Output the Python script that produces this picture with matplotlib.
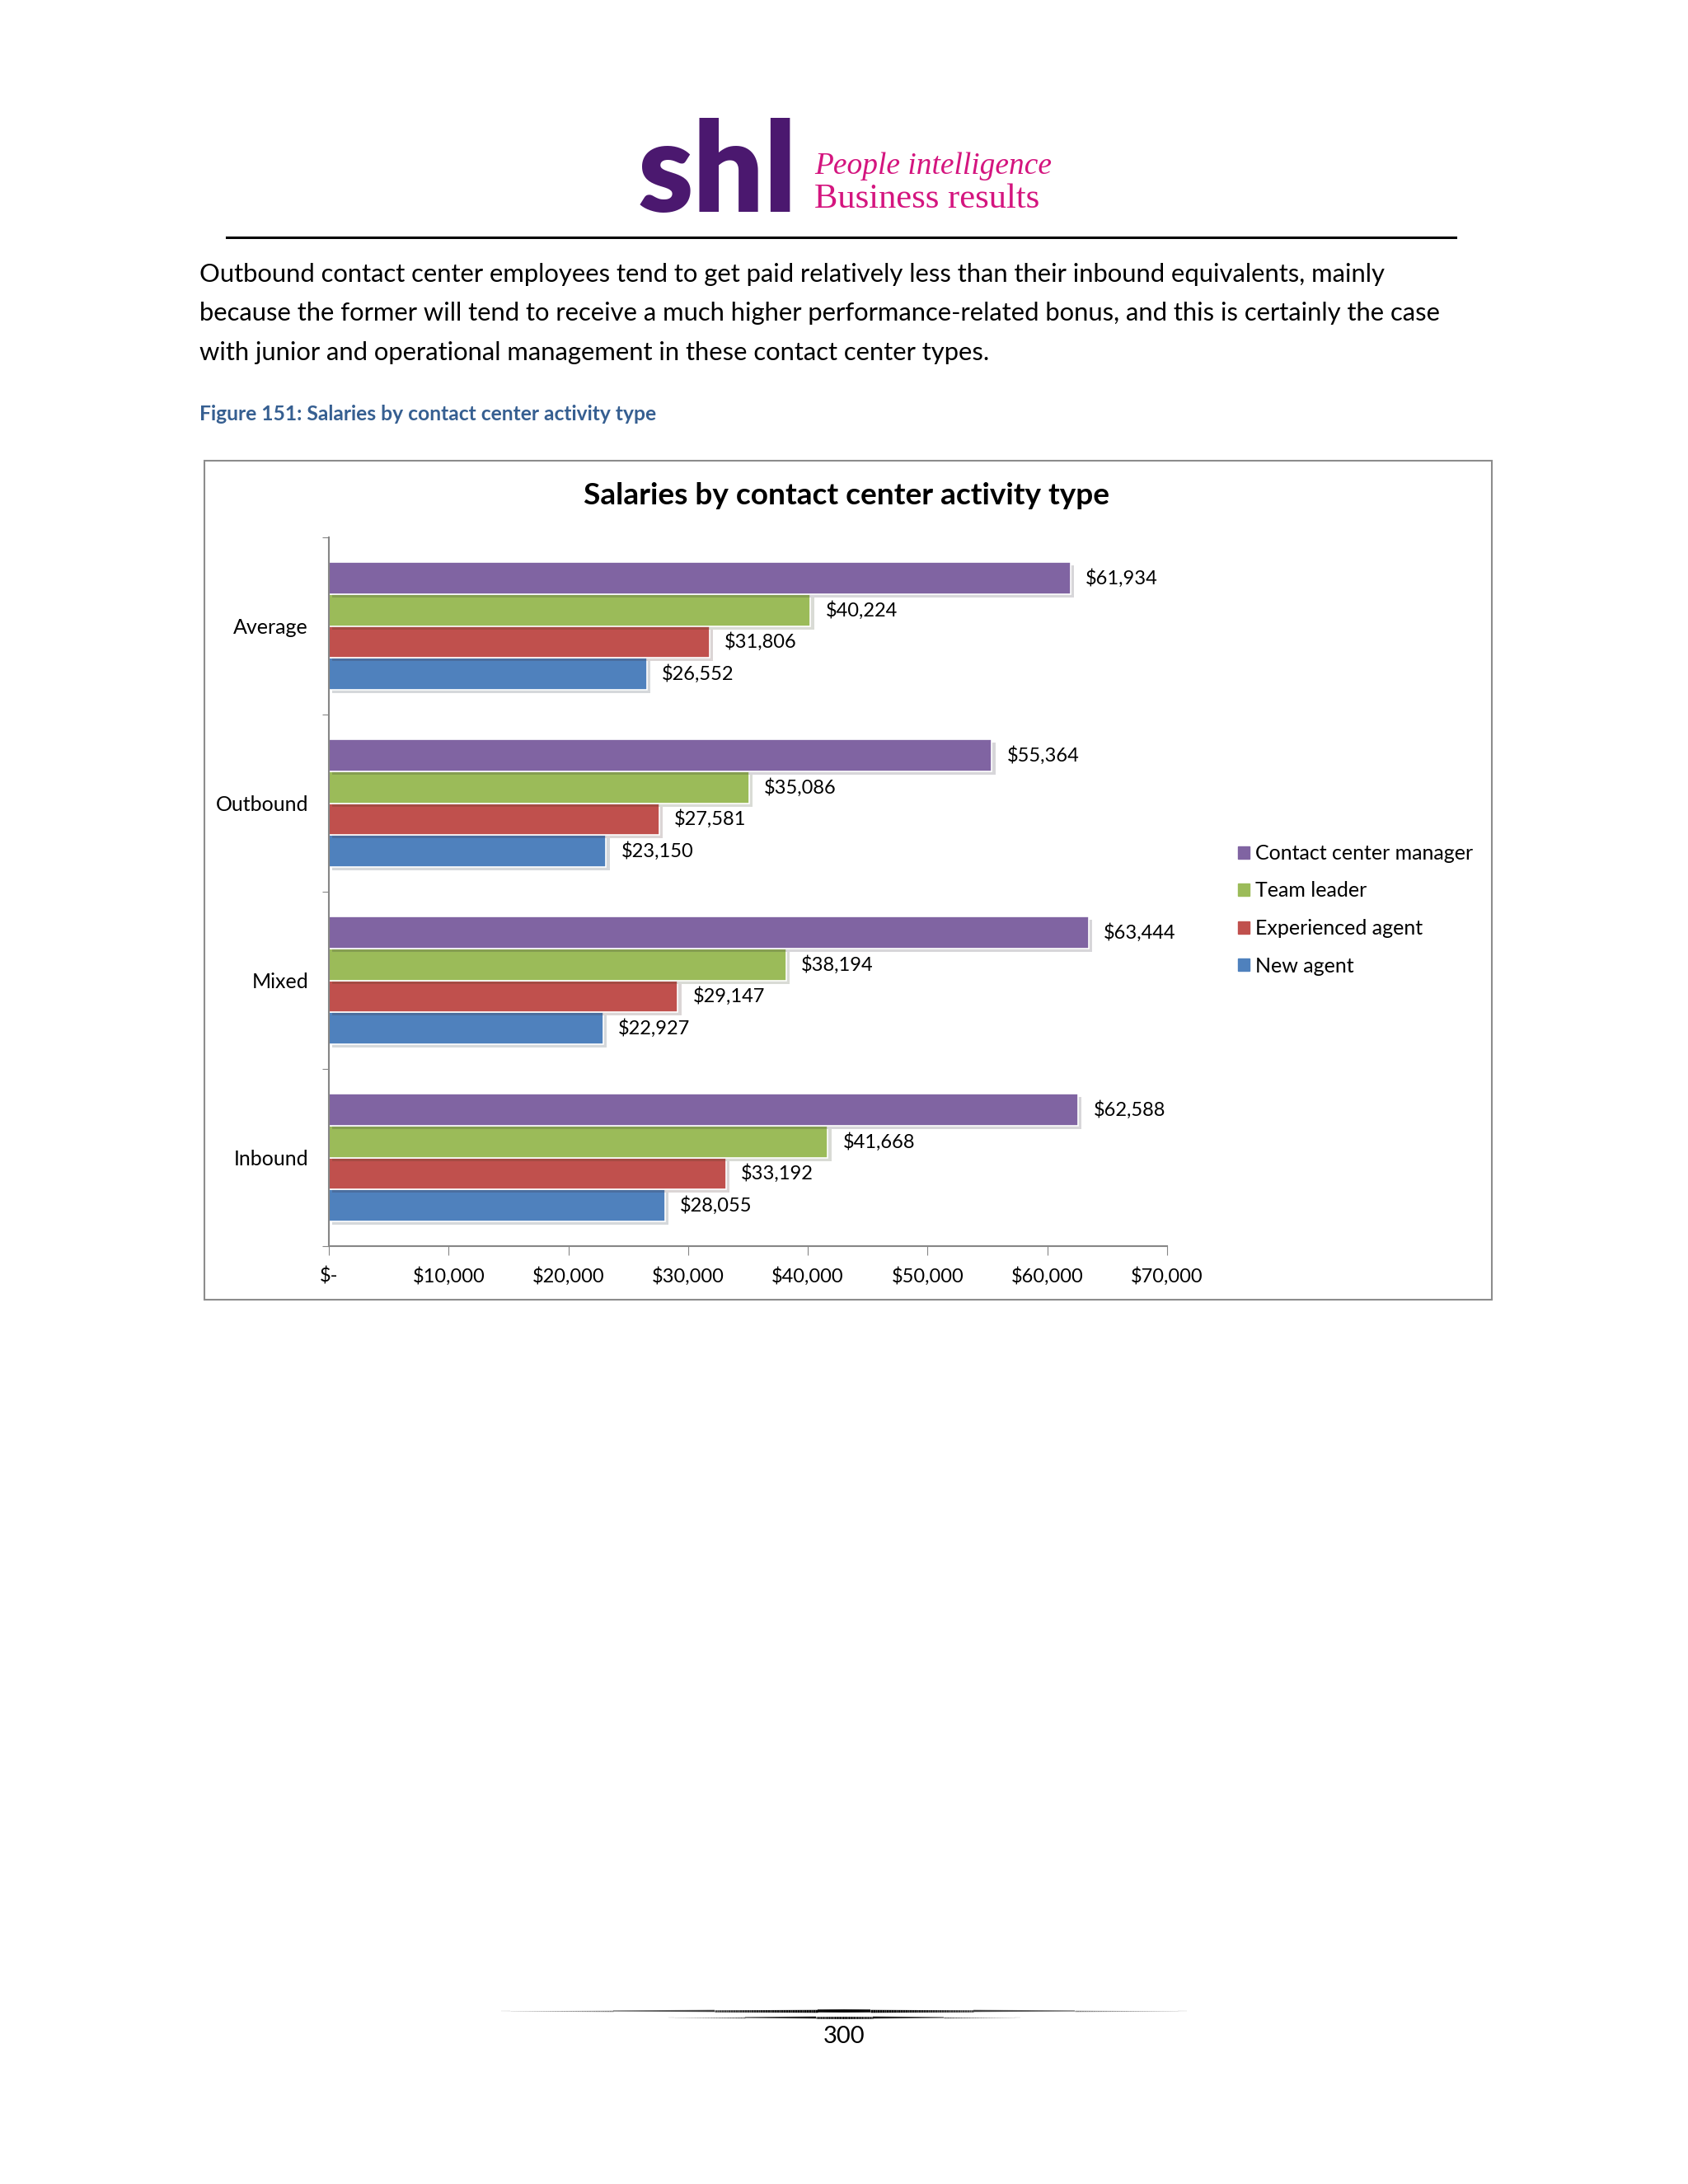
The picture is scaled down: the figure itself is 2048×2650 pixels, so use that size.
import numpy as np
import matplotlib
matplotlib.use('Agg')
import matplotlib.pyplot as plt
from matplotlib import patheffects as pe
from matplotlib.patches import Rectangle, Patch
from matplotlib.collections import LineCollection

# page size in pixels
W, H = 2048, 2650
DPI = 100

# ---- data (bottom -> top as drawn) ----
categories = ['Inbound', 'Mixed', 'Outbound', 'Average']
series_names = ['New agent', 'Experienced agent', 'Team leader', 'Contact center manager']
new_agent = [28055, 22927, 23150, 26552]
experienced_agent = [33192, 29147, 27581, 31806]
team_leader = [41668, 38194, 35086, 40224]
cc_manager = [62588, 63444, 55364, 61934]
x_ticks = [0, 10000, 20000, 30000, 40000, 50000, 60000, 70000]
x_tick_labels = ['$-', '$10,000', '$20,000', '$30,000', '$40,000', '$50,000', '$60,000', '$70,000']
colors = ['#4F81BD', '#C0504D', '#9BBB59', '#8064A2']

paragraph = [
    'Outbound contact center employees tend to get paid relatively less than their inbound equivalents, mainly',
    'because the former will tend to receive a much higher performance-related bonus, and this is certainly the case',
    'with junior and operational management in these contact center types.',
]
caption = 'Figure 151: Salaries by contact center activity type'
chart_title = 'Salaries by contact center activity type'

plt.rcParams['font.family'] = ['Lato', 'DejaVu Sans']

fig = plt.figure(figsize=(W / DPI, H / DPI), dpi=DPI)
fig.patch.set_facecolor('white')


def fx(x):
    return x / W


def fy(y):
    return 1 - y / H


def fit(t, width):
    # scale font so the text spans the given pixel width
    r = fig.canvas.get_renderer()
    w = t.get_window_extent(r).width
    t.set_fontsize(t.get_fontsize() * width / w)


# ---- header logo ----
logo = fig.text(fx(774), fy(257), 'shl', fontsize=100, fontweight='heavy',
                color='#4B186F', va='baseline', ha='left')
fit(logo, 193)
t1 = fig.text(fx(988), fy(211), 'People intelligence', family='Liberation Serif',
              style='italic', fontsize=30, color='#D4157F', va='baseline')
fit(t1, 288)
t2 = fig.text(fx(988), fy(252), 'Business results', family='Liberation Serif',
              fontsize=30, color='#D4157F', va='baseline')
fit(t2, 274)
fig.add_artist(plt.Line2D([fx(275), fx(1766)], [fy(288), fy(288)],
                          transform=fig.transFigure, color='black', lw=2.2))

# ---- paragraph + caption ----
lines = []
for i, s in enumerate(paragraph):
    lines.append(fig.text(fx(242), fy(333 + 47.3 * i), s, fontsize=20,
                          va='center', ha='left', color='black'))
fit(lines[0], 1448)
for t in lines[1:]:
    t.set_fontsize(lines[0].get_fontsize())
cap = fig.text(fx(242), fy(503), caption, fontsize=16, fontweight='bold',
               color='#365F91', va='center', ha='left')
fit(cap, 558)

# ---- chart frame ----
fig.add_artist(Rectangle((fx(248), fy(1577)), fx(1810) - fx(248), (1577 - 559) / H,
                         transform=fig.transFigure, fill=False,
                         edgecolor='#8C8C8C', lw=1.5))
ttl = fig.text(fx(1027), fy(602), chart_title, fontsize=24, fontweight='bold',
               ha='center', va='center', color='black')
fit(ttl, 639)

# ---- bars ----
ax = fig.add_axes([fx(399), fy(1512), fx(1416) - fx(399), (1512 - 652) / H])
ax.patch.set_alpha(0)
ax.set_xlim(0, 70000)
ax.set_ylim(-0.5, 3.5)

y = np.arange(len(categories))
h = 0.18
offs = [-0.27, -0.09, 0.09, 0.27]
shadow = [pe.SimplePatchShadow(offset=(3, -3), alpha=0.18), pe.Normal()]
for vals, name, col, off in zip([new_agent, experienced_agent, team_leader, cc_manager],
                                series_names, colors, offs):
    bars = ax.barh(y + off, vals, height=h, color=col, edgecolor='white',
                   linewidth=1.2, label=name, path_effects=shadow)
    for b, v in zip(bars, vals):
        ax.annotate(f'${v:,}', (v, b.get_y() + h / 2), xytext=(13, 0),
                    textcoords='offset points', va='center', ha='left',
                    fontsize=17, color='black')

ax.set_yticks(np.arange(-0.5, 4, 1.0), [''] * 5)
ax.set_yticks(y, categories, minor=True)
ax.tick_params(axis='y', which='major', length=6, direction='out', color='#868686')
ax.tick_params(axis='y', which='minor', length=0, pad=18, labelsize=18)
ax.set_xticks(x_ticks, x_tick_labels)
ax.tick_params(axis='x', length=8, direction='out', pad=10, labelsize=17, color='#868686')
for s in ['top', 'right']:
    ax.spines[s].set_visible(False)
for s in ['left', 'bottom']:
    ax.spines[s].set_color('#868686')
    ax.spines[s].set_linewidth(1.5)

# ---- legend ----
handles = [Patch(facecolor=c, edgecolor=c) for c in colors][::-1]
fig.legend(handles, series_names[::-1], loc='upper left',
           bbox_to_anchor=(fx(1502), fy(1024)), frameon=False, fontsize=18,
           handlelength=0.55, handleheight=0.55, handletextpad=0.3,
           labelspacing=0.9, borderaxespad=0, borderpad=0)

# ---- footer ----
def taper(x0, x1, yy, maxw):
    xs = np.linspace(x0, x1, 300)
    segs = [[(fx(a), fy(yy)), (fx(b), fy(yy))] for a, b in zip(xs[:-1], xs[1:])]
    mid = (xs[:-1] + xs[1:]) / 2
    p = 1 - np.abs((mid - (x0 + x1) / 2) / ((x1 - x0) / 2))
    g = 0.8 * (1 - p) ** 1.2
    lc = LineCollection(segs, linewidths=0.3 + maxw * p,
                        colors=[(v, v, v) for v in g], transform=fig.transFigure)
    fig.add_artist(lc)


taper(608, 1440, 2440, 2.4)
taper(811, 1238, 2448, 1.8)
fig.text(fx(1024), fy(2471), '300', fontsize=21, ha='center', va='center')

fig.savefig('out.png', dpi=DPI)
